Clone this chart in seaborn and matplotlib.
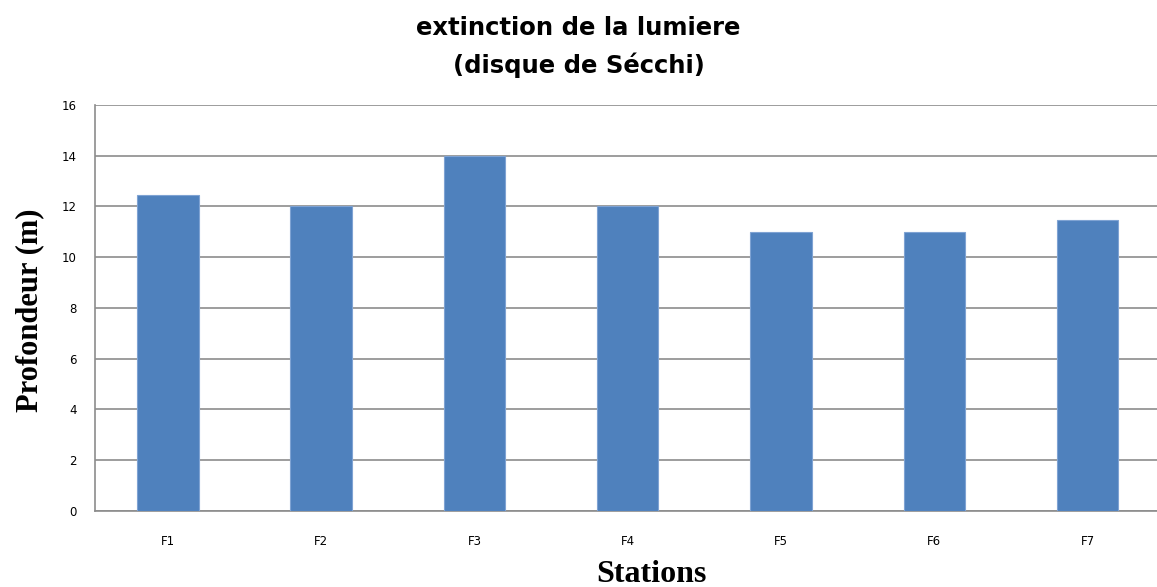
import matplotlib
matplotlib.use("Agg")
import matplotlib.pyplot as plt
import seaborn as sns
import pandas as pd

stations = ["F1", "F2", "F3", "F4", "F5", "F6", "F7"]
profondeur = [12.45, 12.0, 14.0, 12.0, 11.0, 11.0, 11.45]
y_ticks = [0, 2, 4, 6, 8, 10, 12, 14, 16]

df = pd.DataFrame({"station": stations, "profondeur": profondeur})

sns.set_style("white")
plt.rcParams["font.family"] = ["DejaVu Sans"]
plt.rcParams["text.color"] = "black"
plt.rcParams["xtick.color"] = "black"
plt.rcParams["ytick.color"] = "black"

fig = plt.figure(figsize=(11.57, 5.87), dpi=100)
ax = fig.add_axes([0.082, 0.1295, 0.918, 0.6917])

sns.barplot(data=df, x="station", y="profondeur", color="#4F81BD",
            width=0.4, saturation=1, edgecolor="#7FA3D3", linewidth=0.8,
            ax=ax, zorder=3)

ax.set_ylim(0, 16)
ax.set_xlim(-0.476, 6.452)
ax.set_yticks(y_ticks)
ax.set_yticklabels([str(t) for t in y_ticks], fontsize=8.5)
ax.tick_params(axis="x", length=0, pad=17, labelsize=8.5)
ax.tick_params(axis="y", length=4, color="#868686", pad=9)
ax.yaxis.grid(True, color="#8C8C8C", linewidth=1.2, zorder=0)
ax.set_axisbelow(True)

for s in ["top", "right"]:
    ax.spines[s].set_visible(False)
for s in ["left", "bottom"]:
    ax.spines[s].set_color("#8C8C8C")
    ax.spines[s].set_linewidth(1.2)

ax.set_xlabel("")
ax.set_ylabel("")

fig.text(0.5, 0.952, "extinction de la lumiere", ha="center", va="center",
         fontsize=17.5, fontweight="bold")
fig.text(0.5, 0.888, "(disque de Sécchi)", ha="center", va="center",
         fontsize=17.5, fontweight="bold")
fig.text(0.026, 0.472, "Profondeur (m)", rotation=90, ha="center", va="center",
         fontsize=22, fontweight="bold", family=["Liberation Serif"])
fig.text(0.563, 0.022, "Stations", ha="center", va="center",
         fontsize=23, fontweight="bold", family=["Liberation Serif"])

fig.savefig("out.png", dpi=100)
